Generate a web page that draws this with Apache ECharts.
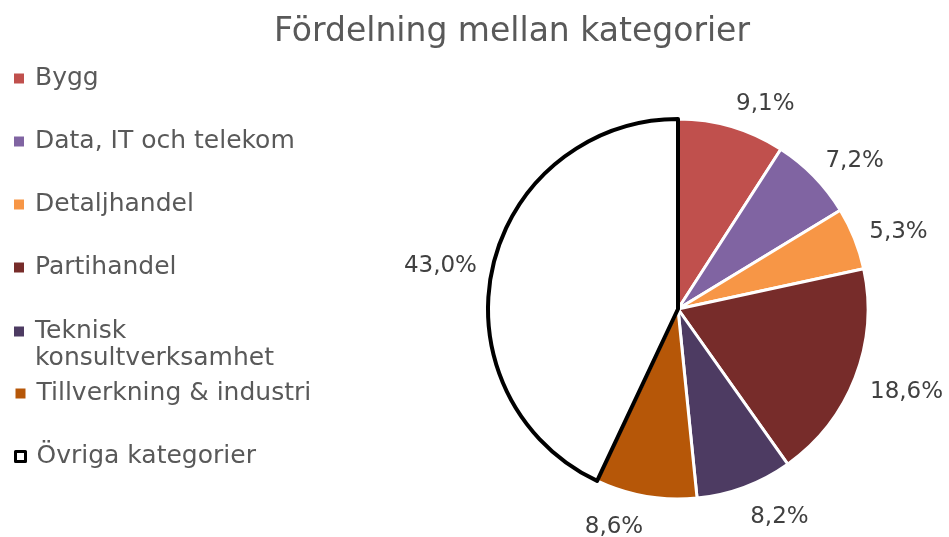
<!DOCTYPE html>
<html>
<head>
<meta charset="utf-8">
<script src="https://cdn.jsdelivr.net/npm/echarts@6/dist/echarts.min.js"></script>
<style>
  html, body { margin: 0; padding: 0; background: #fff; }
  #chart { width: 949px; height: 537px; }
</style>
</head>
<body>
<div id="chart"></div>
<script>
const categories = ['Bygg', 'Data, IT och telekom', 'Detaljhandel', 'Partihandel', 'Teknisk konsultverksamhet', 'Tillverkning & industri', 'Övriga kategorier']
const shares = [9.1, 7.2, 5.3, 18.6, 8.2, 8.6, 43.0]
const colors = ['#c0504d', '#8064a2', '#f79646', '#772c2a', '#4d3b62', '#b65708', '#ffffff']

const font = 'DejaVu Sans'
const textColor = '#595959'
const pieCenter = [678, 309]
const pieRadius = 190
const labelGap = 16

const chart = echarts.init(document.getElementById('chart'))

const pieData = categories.map((name, i) => {
	const isOther = i === categories.length - 1
	return {
		name,
		value: shares[i],
		itemStyle: {
			color: colors[i],
			borderColor: isOther ? '#000000' : '#ffffff',
			borderWidth: isOther ? 4 : 3
		}
	}
})

const legendItem = (name) => {
	const isOther = name === 'Övriga kategorier'
	return {
		name,
		itemStyle: isOther
			? { color: '#ffffff', borderColor: '#000000', borderWidth: 3 }
			: { borderWidth: 0 }
	}
}

const legendBase = {
	orient: 'vertical',
	left: 14,
	padding: 0,
	icon: 'rect',
	itemWidth: 10,
	itemHeight: 10,
	itemGap: 36,
	selectedMode: false,
	// blank first line so the marker sits level with "Teknisk", like the original
	formatter: (name) => name === 'Teknisk konsultverksamhet' ? ' \nTeknisk\nkonsultverksamhet' : name,
	textStyle: {
		fontFamily: font,
		fontSize: 25,
		lineHeight: 27,
		color: textColor,
		padding: [0, 0, 0, 6]
	}
}

const option = {
	animation: false,
	title: {
		text: 'Fördelning mellan kategorier',
		left: 507,
		top: 11,
		textAlign: 'center',
		textStyle: {
			fontFamily: font,
			fontSize: 33,
			fontWeight: 'normal',
			color: textColor
		}
	},
	legend: [
		Object.assign({}, legendBase, {
			top: 65,
			data: categories.slice(0, 4).map(legendItem)
		}),
		Object.assign({}, legendBase, {
			top: 291,
			data: categories.slice(4, 5).map(legendItem)
		}),
		Object.assign({}, legendBase, {
			top: 380,
			data: categories.slice(5).map(legendItem)
		})
	],
	series: [{
		type: 'pie',
		center: pieCenter,
		radius: pieRadius,
		startAngle: 90,
		clockwise: true,
		avoidLabelOverlap: false,
		data: pieData,
		label: {
			show: true,
			position: 'outside',
			fontFamily: font,
			fontSize: 23,
			color: '#404040',
			distanceToLabelLine: 0,
			formatter: (p) => p.value.toFixed(1).replace('.', ',') + '%'
		},
		labelLine: {
			show: false,
			length: labelGap,
			length2: 0
		},
		// push labels away vertically by half their height, scaled by how steep the slice points
		labelLayout: (params) => {
			const r = params.labelRect
			const dirY = (r.y + r.height / 2 - pieCenter[1]) / (pieRadius + labelGap)
			return { dy: dirY * r.height / 2 + 4 }
		},
		emphasis: { disabled: true }
	}]
}

chart.setOption(option)
window.addEventListener('resize', () => chart.resize())
</script>
</body>
</html>
